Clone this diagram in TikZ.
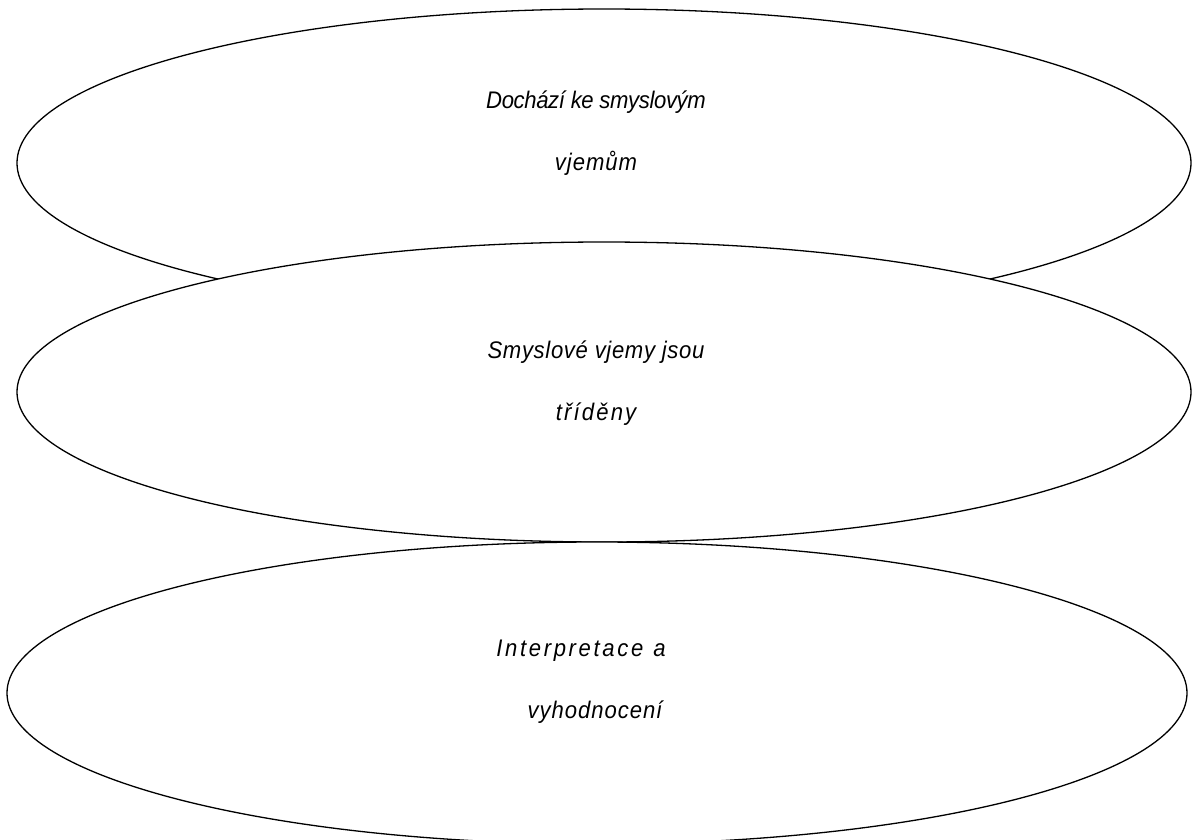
\documentclass[tikz,border=0pt]{standalone}
\usepackage{fontspec}
\setmainfont{Liberation Sans}[FakeStretch=0.92]
\usetikzlibrary{shapes.geometric}
\newcommand{\ls}[2]{{\addfontfeatures{LetterSpace=#1}#2}}
\begin{document}
\begin{tikzpicture}[x=1pt,y=1pt,
  oval/.style={ellipse,draw=black,fill=white,line width=1.3pt,inner sep=0pt},
  lbl/.style={align=center,font=\fontsize{24}{62}\selectfont\itshape,inner sep=0pt}]
\useasboundingbox (0,0) rectangle (1192,-839);
\begin{scope}
\clip (0,0) rectangle (1192,-839);
\node[oval,minimum width=1174pt,minimum height=308pt] (e1) at (604,-163) {};
\node[oval,minimum width=1174pt,minimum height=300pt] (e2) at (604,-392) {};
\node[oval,minimum width=1180pt,minimum height=302pt] (e3) at (597,-693) {};
\end{scope}
\node[lbl] (t1) at (596,-133) {\ls{-1.5}{Dochází ke smyslovým}\\\ls{4}{vjemům}};
\node[lbl] (t2) at (596,-383) {\ls{2.8}{Smyslové vjemy jsou}\\\ls{9}{tříděny}};
\node[lbl] (t3) at (595,-682) {\ls{11}{Interpretace\hspace{10pt}a}\hspace*{28pt}\\\ls{4}{vyhodnocení}};
\end{tikzpicture}
\end{document}
